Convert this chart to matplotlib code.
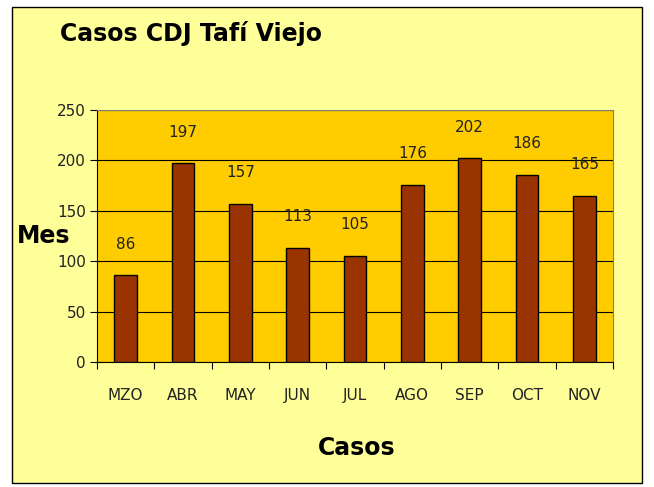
import matplotlib.pyplot as plt
from matplotlib.patches import Rectangle

# Data
meses = ['MZO', 'ABR', 'MAY', 'JUN', 'JUL', 'AGO', 'SEP', 'OCT', 'NOV']
casos = [86, 197, 157, 113, 105, 176, 202, 186, 165]

fig = plt.figure(figsize=(6.54, 4.87), dpi=100)
fig.patch.set_facecolor('white')

# Outer chart frame (behind the axes)
frame = Rectangle((12 / 654, 1 - 483 / 487), 630 / 654, 476 / 487,
                  transform=fig.transFigure, facecolor='#FFFF99',
                  edgecolor='black', linewidth=1.0, zorder=-10)
fig.add_artist(frame)

ax = fig.add_axes([97 / 654, 1 - 362 / 487, 516 / 654, 252 / 487])
ax.set_facecolor('#FFCC00')

x = range(len(meses))
ax.bar(x, casos, width=0.4, color='#993300', edgecolor='black',
       linewidth=1.0, zorder=3)
for xi, v in zip(x, casos):
    ax.text(xi, v + 31, str(v), ha='center', va='center', fontsize=11,
            color='#222222')

ax.set_xlim(-0.5, len(meses) - 0.5)
ax.set_ylim(0, 250)
ax.set_yticks(range(0, 251, 50))
ax.set_xticks([i - 0.5 for i in range(len(meses) + 1)], minor=False)
ax.set_xticklabels([])
ax.set_xticks(list(x), minor=True)
ax.set_xticklabels(meses, minor=True)
ax.tick_params(axis='x', which='minor', length=0, pad=19, labelsize=11,
               labelcolor='#222222')
ax.tick_params(axis='x', which='major', length=5, direction='out')
ax.tick_params(axis='y', length=5, labelsize=11, pad=3, labelcolor='#222222')

ax.yaxis.grid(True, color='black', linewidth=0.8, zorder=1)
ax.set_axisbelow(True)

for side in ['top', 'right']:
    ax.spines[side].set_color('#808080')
ax.spines['left'].set_color('black')
ax.spines['bottom'].set_color('black')

fig.text(60 / 654, 1 - 33 / 487, 'Casos CDJ Tafí Viejo', fontsize=17,
         fontweight='bold', ha='left', va='center')
fig.text(17 / 654, 1 - 236 / 487, 'Mes', fontsize=17, fontweight='bold',
         ha='left', va='center')
fig.text(357 / 654, 1 - 448 / 487, 'Casos', fontsize=17, fontweight='bold',
         ha='center', va='center')

fig.savefig('out.png', dpi=100, facecolor=fig.get_facecolor())
